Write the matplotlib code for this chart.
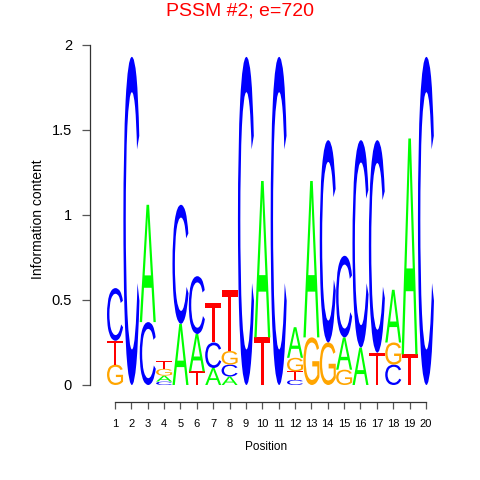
"""Logo de secuencia (PSSM #2) dibujado con glifos estirados."""
import matplotlib
matplotlib.use("Agg")
import matplotlib.pyplot as plt
from matplotlib.font_manager import FontProperties
from matplotlib.patches import PathPatch
from matplotlib.textpath import TextPath
from matplotlib.transforms import Affine2D

positions = list(range(1, 21))
# altura (bits) de cada base en cada posición
height_A = [0.00, 0.00, 0.69, 0.035, 0.36, 0.22, 0.10, 0.05, 0.00, 0.92,
            0.00, 0.18, 0.92, 0.00, 0.19, 0.22, 0.00, 0.31, 1.27, 0.00]
height_C = [0.31, 1.93, 0.37, 0.02, 0.70, 0.34, 0.15, 0.07, 1.93, 0.00,
            1.93, 0.03, 0.00, 1.19, 0.48, 1.22, 1.25, 0.12, 0.00, 1.93]
height_G = [0.12, 0.00, 0.00, 0.04, 0.00, 0.00, 0.00, 0.08, 0.00, 0.00,
            0.00, 0.08, 0.28, 0.25, 0.09, 0.00, 0.00, 0.13, 0.00, 0.00]
height_T = [0.14, 0.00, 0.00, 0.045, 0.00, 0.08, 0.23, 0.36, 0.00, 0.28,
            0.00, 0.05, 0.00, 0.00, 0.00, 0.00, 0.19, 0.00, 0.18, 0.00]
y_ticks = [0, 0.5, 1, 1.5, 2]
y_tick_labels = ["0", "0.5", "1", "1.5", "2"]
title = "PSSM #2; e=720"

COLORS = {"A": "#00FF00", "C": "#0000FF", "G": "#FFA500", "T": "#FF0000"}
FONT = FontProperties(family="Liberation Sans")


def draw_letter(ax, letter, x, y0, h, w=0.98):
    path = TextPath((0, 0), letter, size=1, prop=FONT)
    ext = path.get_extents()
    tr = (Affine2D().translate(-ext.x0, -ext.y0)
          .scale(w / ext.width, h / ext.height)
          .translate(x - w / 2, y0))
    ax.add_patch(PathPatch(tr.transform_path(path), facecolor=COLORS[letter],
                           edgecolor="none", lw=0))


def main():
    fig = plt.figure(figsize=(4.8, 4.8), dpi=100)
    ax = fig.add_axes([0.1875, 0.1625, 0.734, 0.7615])
    heights = {"A": height_A, "C": height_C, "G": height_G, "T": height_T}
    for i, pos in enumerate(positions):
        stack = sorted(((heights[b][i], b) for b in "ACGT"), key=lambda t: t[0])
        y = 0.0
        for h, b in stack:
            if h > 0:
                draw_letter(ax, b, pos, y, h)
                y += h

    ax.set_xlim(-0.53, 21.0)
    ax.set_ylim(-0.1, 2.05)
    for s in ("top", "right"):
        ax.spines[s].set_visible(False)
    ax.spines["left"].set_bounds(0, 2)
    ax.spines["bottom"].set_bounds(1, 20)
    for s in ("left", "bottom"):
        ax.spines[s].set_color("#333333")
        ax.spines[s].set_linewidth(0.9)
    ax.set_yticks(y_ticks)
    ax.set_yticklabels(y_tick_labels, fontsize=10.5, family="Liberation Sans")
    ax.set_xticks(positions)
    ax.set_xticklabels([str(p) for p in positions], fontsize=8, family="Liberation Sans")
    ax.tick_params(axis="y", length=6, width=0.9, color="#555555", pad=7)
    ax.tick_params(axis="x", length=5, width=0.9, color="#555555", pad=7)
    ax.set_ylabel("Information content", fontsize=10, family="Liberation Sans", labelpad=5)
    ax.set_xlabel("Position", fontsize=8.5, family="Liberation Sans", labelpad=9)
    fig.text(0.5, 1 - 11 / 480, title, color="red", fontsize=14,
             family="Liberation Sans", ha="center", va="center")
    fig.savefig("out.png", dpi=100)


if __name__ == "__main__":
    main()
